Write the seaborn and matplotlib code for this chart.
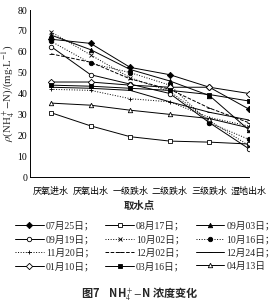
import matplotlib
matplotlib.use("Agg")
import matplotlib.pyplot as plt
import seaborn as sns
import numpy as np

sns.set_theme(style="white")
plt.rcParams['font.family'] = ['Liberation Serif', 'Noto Sans CJK SC', 'DejaVu Sans']
plt.rcParams['mathtext.fontset'] = 'stix'

stations = ["厌氧进水", "厌氧出水", "一级跌水", "二级跌水", "三级跌水", "湿地出水"]
dates = ["07月25日", "08月17日", "09月03日", "09月19日", "10月02日", "10月16日",
         "11月20日", "12月02日", "12月24日", "01月10日", "03月16日", "04月13日"]

d0725 = [66.0, 64.0, 52.5, 49.0, 43.0, 32.5]
d0817 = [30.8, 24.5, 19.3, 17.2, 16.7, 15.8]
d0903 = [68.0, 61.0, 51.5, 46.0, 39.0, 22.5]
d0919 = [62.5, 49.0, 44.5, 40.0, 26.0, 13.5]
d1002 = [69.5, 58.5, 47.5, 41.0, 27.0, 15.0]
d1016 = [65.0, 54.5, 50.0, 44.0, 26.0, 18.0]
d1120 = [42.0, 41.5, 37.5, 36.0, 28.5, 24.4]
d1202 = [59.0, 55.0, 47.0, 42.0, 33.0, 26.0]
d1224 = [43.0, 42.5, 41.5, 36.0, 31.0, 27.3]
d0110 = [45.5, 45.5, 44.0, 43.0, 43.0, 40.0]
d0316 = [44.0, 43.5, 42.5, 41.5, 39.5, 36.4]
d0413 = [35.4, 34.4, 32.0, 30.0, 28.0, 23.5]

series = [d0725, d0817, d0903, d0919, d1002, d1016, d1120, d1202, d1224, d0110, d0316, d0413]

# style: marker, filled?, linestyle
styles = [
    ('D', True, '-'), ('s', False, '-'), ('^', True, '-'),
    ('o', False, '-'), ('x', True, ':'), ('o', True, ':'),
    ('+', True, ':'), ('_', True, '--'), ('_', True, '-'),
    ('D', False, '-'), ('s', True, '-'), ('^', False, '-'),
]

fig = plt.figure(figsize=(2.8, 3.06), dpi=100)
ax = fig.add_axes([30/280, 1-177/306, (249-30)/280, (177-10)/306])

pos = np.arange(len(stations))
handles = []
for vals, (m, filled, ls), lab in zip(series, styles, dates):
    fc = 'black' if filled else 'white'
    sns.lineplot(x=pos, y=vals, ax=ax, color='black', marker=m, markersize=3.2,
                 linewidth=0.7, linestyle=ls, mfc=fc, mec='black', mew=0.6,
                 sort=False, legend=False)
    handles.append(ax.lines[-1])

ax.set_xlim(-0.53, 5.0)
ax.set_ylim(0, 80)
ax.set_yticks(range(0, 81, 10))
ax.set_xticks(pos)
ax.set_xticklabels(stations)
ax.tick_params(axis='both', direction='in', length=2.5, width=0.6, pad=2,
               colors='black', labelsize=7)
ax.tick_params(axis='x', labelsize=6.5, pad=7)
for s in ['top', 'right']:
    ax.spines[s].set_visible(False)
for s in ['left', 'bottom']:
    ax.spines[s].set_color('black')
    ax.spines[s].set_linewidth(0.7)

ax.set_ylabel(r'$\rho$(NH$_4^+$$-$N)/(mg$\cdot$L$^{-1}$)', fontsize=7.8, labelpad=0)
ax.set_xlabel('取水点', fontsize=7.5, fontweight='bold', labelpad=4)

labels = [d + ('；' if i < len(dates) - 1 else '') for i, d in enumerate(dates)]
order = [0, 3, 6, 9, 1, 4, 7, 10, 2, 5, 8, 11]
fig.legend([handles[i] for i in order], [labels[i] for i in order], ncol=3,
           loc='upper left', bbox_to_anchor=(0.055, 1-221/306), frameon=False,
           fontsize=7, handlelength=2.9, handletextpad=0.25, columnspacing=1.1,
           labelspacing=0.42, borderaxespad=0, borderpad=0)

fig.text(0.5, 1-293/306, '图7    NH$_4^+$$-$N 浓度变化', ha='center', va='center',
         fontsize=8, fontweight='bold', family=['Noto Sans CJK SC', 'DejaVu Sans'])

fig.savefig('out.png', dpi=100, facecolor='white')
